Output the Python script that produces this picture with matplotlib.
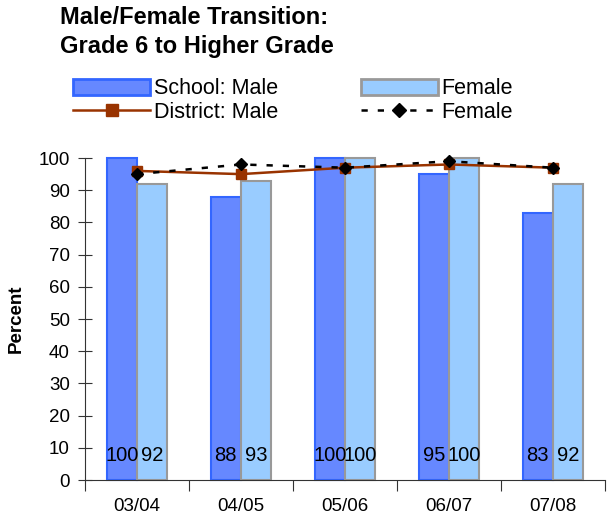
import numpy as np
import matplotlib.pyplot as plt
from matplotlib.lines import Line2D
from matplotlib.patches import Patch

plt.rcParams['font.family'] = ['Liberation Sans', 'DejaVu Sans']

years = ['03/04', '04/05', '05/06', '06/07', '07/08']
school_male = [100, 88, 100, 95, 83]
school_female = [92, 93, 100, 100, 92]
district_male = [96, 95, 97, 98, 97]
district_female = [95, 98, 97, 99, 97]

fig = plt.figure(figsize=(6.09, 5.2), dpi=100)
ax = fig.add_axes([0.1396, 0.0769, 0.8534, 0.6192])

x = np.arange(len(years))
w = 0.29
b1 = ax.bar(x - w / 2, school_male, width=w, color='#6688ff', edgecolor='#3366ff', linewidth=1.5, zorder=2)
b2 = ax.bar(x + w / 2, school_female, width=w, color='#99ccff', edgecolor='#999999', linewidth=1.5, zorder=2)
for p in list(b1) + list(b2):
    p.set_clip_on(False)
ax.plot(x, district_male, color='#993300', marker='s', markersize=7, linewidth=1.8, zorder=3, clip_on=False)
ax.plot(x, district_female, color='black', marker='D', markersize=6, linewidth=1.8,
        linestyle=(0, (2.5, 4)), zorder=4, clip_on=False)

for i in range(len(years)):
    ax.text(x[i] - w / 2, 7.6, str(school_male[i]), ha='center', va='center', fontsize=14.5, zorder=5)
    ax.text(x[i] + w / 2, 7.6, str(school_female[i]), ha='center', va='center', fontsize=14.5, zorder=5)

ax.set_xlim(-0.5, len(years) - 0.5)
ax.set_ylim(0, 100)
ax.set_yticks(range(0, 101, 10))
ax.tick_params(axis='y', direction='inout', length=10, labelsize=13.5, color='#333333', pad=6)
ax.set_xticks(np.arange(-0.5, len(years), 1))
ax.set_xticklabels([])
ax.set_xticks(x, minor=True)
ax.set_xticklabels(years, minor=True, fontsize=13.5)
ax.tick_params(axis='x', which='major', direction='out', length=8, color='#333333')
ax.tick_params(axis='x', which='minor', length=0, pad=13)
for s in ['top', 'right']:
    ax.spines[s].set_visible(False)
ax.spines['left'].set_color('#333333')
ax.spines['bottom'].set_color('#333333')
ax.set_ylabel('Percent', fontsize=13.5, fontweight='bold', labelpad=10)

fig.text(0.098, 0.966, 'Male/Female Transition:', fontsize=17, fontweight='bold', va='center')
fig.text(0.098, 0.910, 'Grade 6 to Higher Grade', fontsize=17, fontweight='bold', va='center')

handles = [
    Patch(facecolor='#6688ff', edgecolor='#3366ff', linewidth=2),
    Line2D([], [], color='#993300', marker='s', markersize=8, linewidth=1.8),
    Patch(facecolor='#99ccff', edgecolor='#999999', linewidth=2),
    Line2D([], [], color='black', marker='D', markersize=7, linewidth=1.8, linestyle=(0, (2.5, 4))),
]
labels = ['School: Male', 'District: Male', 'Female', 'Female']
fig.legend(handles, labels, loc='upper left', bbox_to_anchor=(0.102, 0.870), ncol=2, frameon=False,
           fontsize=15.5, handlelength=3.6, handleheight=0.75, handletextpad=0.15,
           columnspacing=3.85, labelspacing=0.1, borderpad=0)

fig.savefig('out.png', dpi=100)
